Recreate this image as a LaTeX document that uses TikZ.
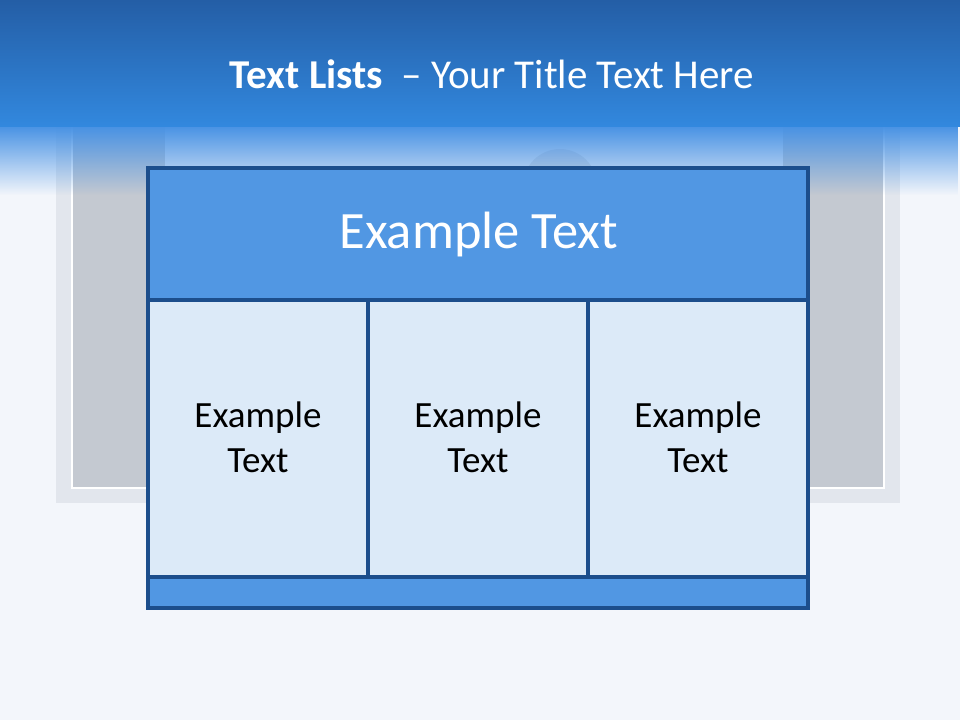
\documentclass[tikz,border=0pt]{standalone}
\usepackage{fontspec}
\setmainfont{Carlito}
\usetikzlibrary{fadings}
\definecolor{bgc}{RGB}{243,246,251}
\definecolor{hdtop}{RGB}{36,94,166}
\definecolor{hdbot}{RGB}{50,136,222}
\definecolor{fadec}{RGB}{70,145,228}
\definecolor{frameout}{RGB}{226,230,237}
\definecolor{panelgrey}{RGB}{196,201,209}
\definecolor{midlight}{RGB}{232,238,248}
\definecolor{boxline}{RGB}{28,78,140}
\definecolor{boxblue}{RGB}{81,151,227}
\definecolor{celllight}{RGB}{220,234,248}
\tikzfading[name=fadedown, top color=transparent!0, bottom color=transparent!100]
\tikzset{
  boxedge/.style={draw=boxline, line width=3.4pt},
  celltext/.style={font=\fontsize{37}{45}\selectfont, text=black, align=center},
}
\begin{document}
\begin{tikzpicture}[x=1pt,y=-1pt]
\useasboundingbox (0,0) rectangle (960,720);
% background
\fill[bgc] (0,0) rectangle (960,720);
% window frame behind
\fill[frameout] (56,120) rectangle (900,503);
\fill[white] (71,120) rectangle (885,489);
\fill[panelgrey] (73,120) rectangle (883,487);
\fill[midlight] (165,120) rectangle (783,300);
\fill[panelgrey!70!midlight, opacity=0.8] (560,186) circle (37);
% fade below header
\fill[fadec, path fading=fadedown] (0,125) rectangle (960,195);
% header band
\fill[top color=hdtop, bottom color=hdbot] (0,0) rectangle (960,126);
% title
\node[anchor=base, text=white, font=\fontsize{41}{50}\selectfont, inner sep=0pt] (title) at (492,88)
  {\textbf{Text Lists}\hspace{0.45em}– Your Title Text Here};
% main box
\fill[boxblue] (148,168) rectangle (808,300);
\fill[celllight] (148,300) rectangle (808,577);
\fill[boxblue] (148,577) rectangle (808,608);
\draw[boxedge] (148,168) rectangle (808,608);
\draw[boxedge] (148,300) -- (808,300);
\draw[boxedge] (148,577) -- (808,577);
\draw[boxedge] (368,300) -- (368,577);
\draw[boxedge] (588,300) -- (588,577);
\node[anchor=base, text=white, font=\fontsize{52.5}{60}\selectfont, inner sep=0pt] (head) at (479,248) {Example Text};
\node[celltext, anchor=base] (c1) at (258,472) {Example\\Text};
\node[celltext, anchor=base] (c2) at (478,472) {Example\\Text};
\node[celltext, anchor=base] (c3) at (698,472) {Example\\Text};
\end{tikzpicture}
\end{document}
